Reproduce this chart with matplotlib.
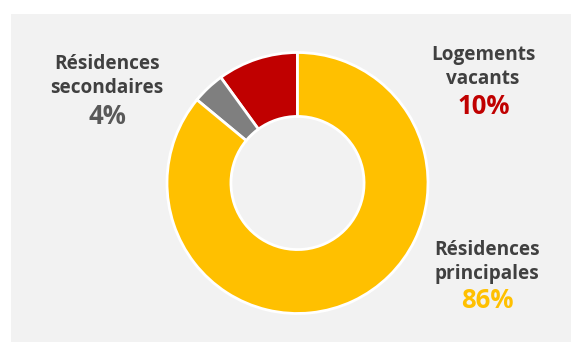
import matplotlib.pyplot as plt
from matplotlib.patches import Rectangle

# data
labels = ['Logements\nvacants', 'Résidences\nsecondaires', 'Résidences\nprincipales']
values = [10, 4, 86]
colors = ['#C00000', '#7F7F7F', '#FFC000']
pct_colors = ['#C00000', '#595959', '#FFC000']
pct_text = ['10%', '4%', '86%']

W, H = 571, 342
fig = plt.figure(figsize=(W / 100, H / 100), dpi=100)
ax = fig.add_axes([0, 0, 1, 1])

# grey panel
ax.add_patch(Rectangle((11, 0), W - 11, H - 14, facecolor='#F2F2F2', edgecolor='none', zorder=0))

cx, cy, r = 297.5, 159, 130.5
ax.pie(values, colors=colors, startangle=90, counterclock=True,
       center=(cx, cy), radius=r, frame=True,
       wedgeprops=dict(width=r * 0.49, edgecolor='white', linewidth=2))
ax.set_xlim(0, W)
ax.set_ylim(0, H)
ax.set_aspect('auto')
ax.axis('off')

font = 'Open Sans'
txt_col = '#404040'
# label positions (text centres)
label_pos = [(483, 275), (107, 266), (487, 80)]
pct_pos = [(484, 236), (107, 225), (487, 41)]
for lab, pct, col, (lx, ly), (px, py) in zip(labels, pct_text, pct_colors, label_pos, pct_pos):
    ax.text(lx, ly, lab, ha='center', va='center', fontsize=13.7, fontweight='bold',
            color=txt_col, family=font, linespacing=1.3)
    ax.text(px, py, pct, ha='center', va='center', fontsize=18.5, fontweight='bold',
            color=col, family=font)

fig.savefig('out.png', dpi=100)
